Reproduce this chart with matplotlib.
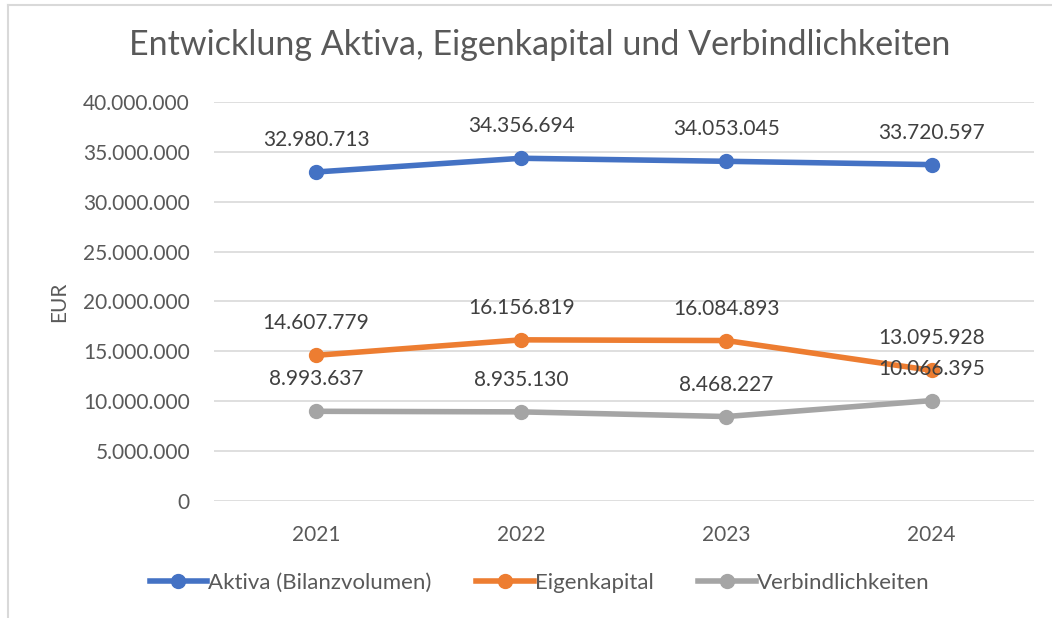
import matplotlib
matplotlib.use('Agg')
import matplotlib.pyplot as plt
from matplotlib.ticker import FuncFormatter, MultipleLocator
from matplotlib.lines import Line2D

# Daten
jahre = ['2021', '2022', '2023', '2024']
aktiva = [32980713, 34356694, 34053045, 33720597]
eigenkapital = [14607779, 16156819, 16084893, 13095928]
verbindlichkeiten = [8993637, 8935130, 8468227, 10066395]
serien = ['Aktiva (Bilanzvolumen)', 'Eigenkapital', 'Verbindlichkeiten']
farben = ['#4472C4', '#ED7D31', '#A5A5A5']

plt.rcParams['font.family'] = ['Lato', 'DejaVu Sans']
textfarbe = '#595959'

def punkte(v, pos=None):
    return f'{int(round(v)):,}'.replace(',', '.')

fig = plt.figure(figsize=(10.52, 6.18), dpi=100)
ax = fig.add_axes([0.203, 0.1893, 0.780, 0.6457])

x = range(len(jahre))
for werte, name, farbe in zip([aktiva, eigenkapital, verbindlichkeiten], serien, farben):
    ax.plot(x, werte, color=farbe, lw=4, marker='o', ms=10, label=name,
            solid_capstyle='round', zorder=3)
    for xi, v in zip(x, werte):
        ax.annotate(punkte(v), (xi, v), xytext=(0, 23), textcoords='offset points',
                    ha='center', va='center', fontsize=15, color='#404040')

ax.set_xlim(-0.5, len(jahre) - 0.5)
ax.set_ylim(0, 40000000)
ax.yaxis.set_major_locator(MultipleLocator(5000000))
ax.yaxis.set_major_formatter(FuncFormatter(punkte))
ax.set_xticks(list(x))
ax.set_xticklabels(jahre)
ax.grid(axis='y', color='#D9D9D9', lw=1.2)
ax.set_axisbelow(True)
for s in ax.spines.values():
    s.set_visible(False)
ax.tick_params(length=0, labelsize=15, labelcolor=textfarbe)
ax.tick_params(axis='y', pad=17)
ax.tick_params(axis='x', pad=17)
ax.set_ylabel('EUR', fontsize=15, color=textfarbe, labelpad=10)

fig.text(0.513, 0.927, 'Entwicklung Aktiva, Eigenkapital und Verbindlichkeiten',
         fontsize=24.5, color=textfarbe, ha='center', va='center')

handles = [Line2D([0], [0], color=f, lw=4, marker='o', ms=10) for f in farben]
fig.legend(handles, serien, loc='center', bbox_to_anchor=(0.513, 0.057), ncol=3,
           frameon=False, fontsize=16, labelcolor=textfarbe, handlelength=2.6,
           handletextpad=0.05, columnspacing=2.0)

# Rahmen
fig.add_artist(Line2D([7.5/1052, 1], [1 - 4.5/618] * 2, color='#D9D9D9', lw=1.5,
                      transform=fig.transFigure))
fig.add_artist(Line2D([7.5/1052] * 2, [0, 1 - 4.5/618], color='#D9D9D9', lw=1.5,
                      transform=fig.transFigure))

fig.savefig('out.png', dpi=100)
